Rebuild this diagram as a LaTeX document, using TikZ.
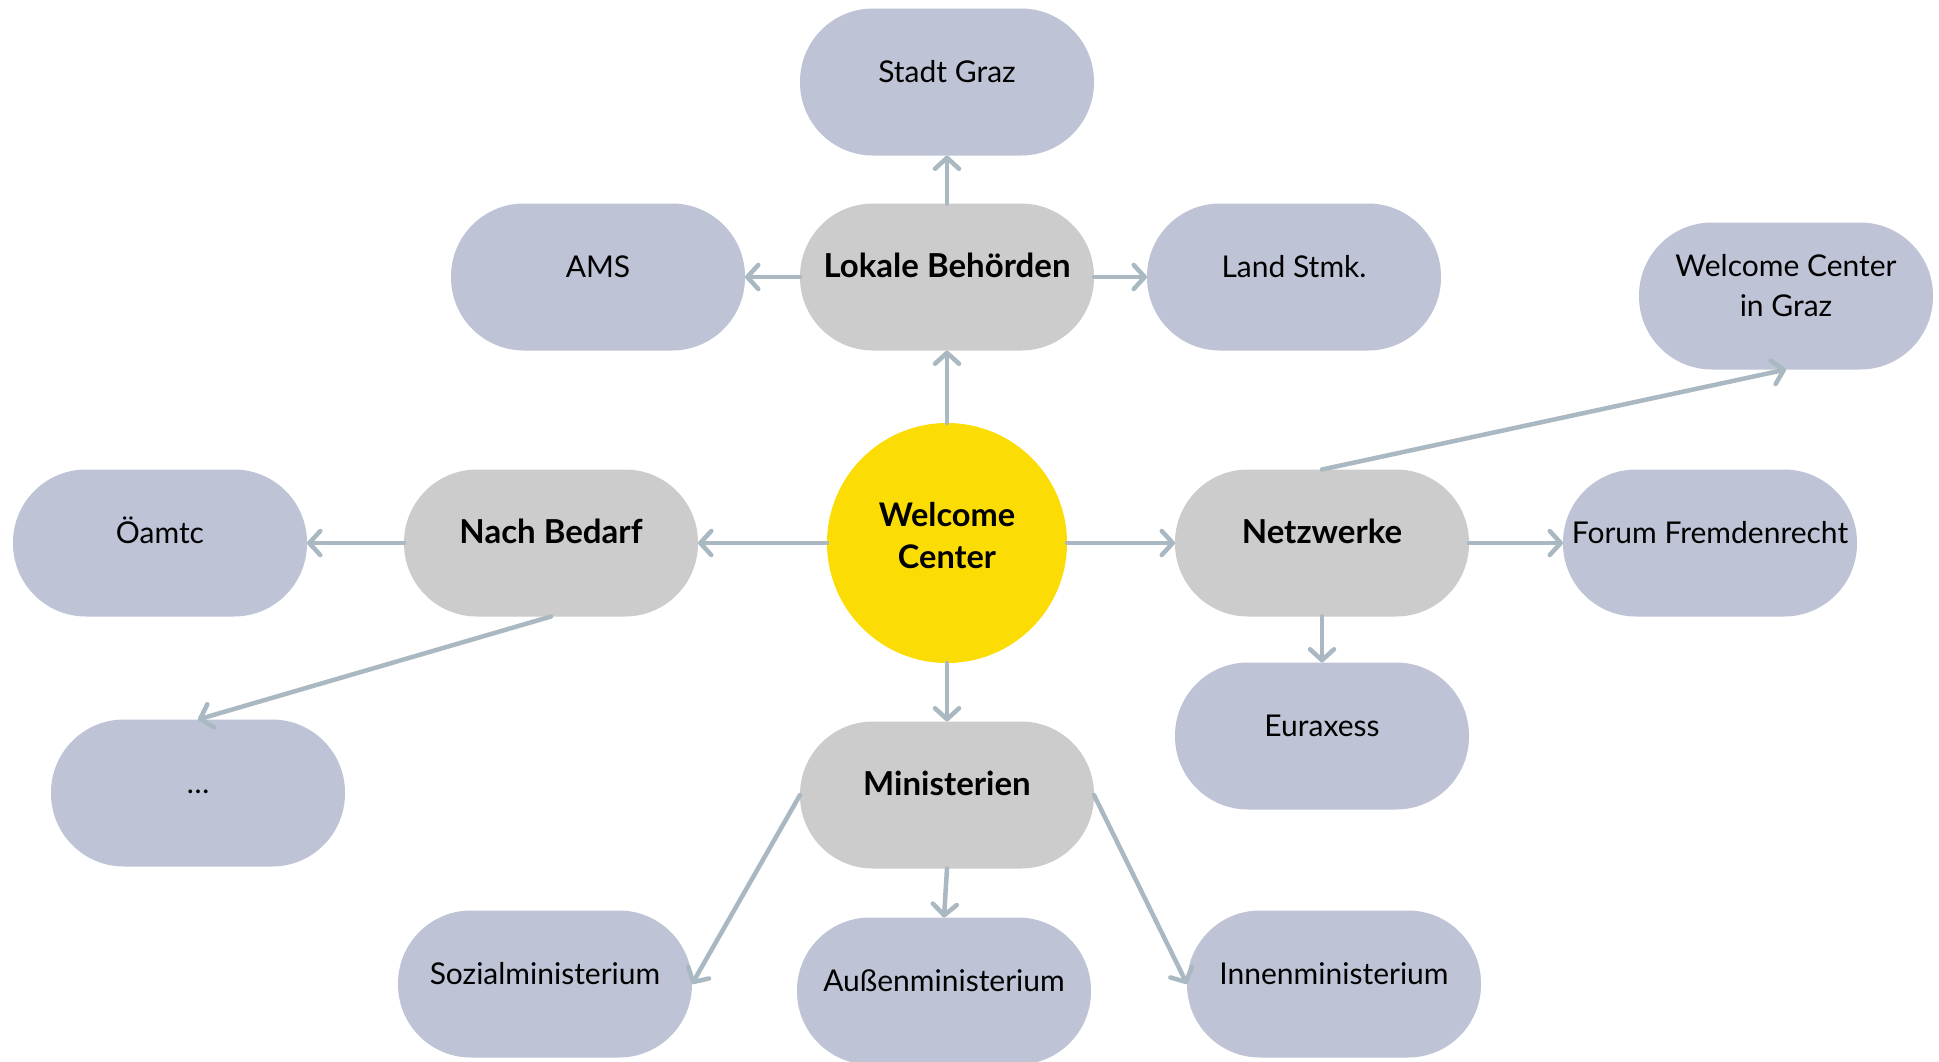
\documentclass[tikz,border=0pt]{standalone}
\usepackage{fontspec}
\setmainfont{Lato}
\usetikzlibrary{arrows.meta}
\definecolor{lav}{HTML}{BEC3D6}
\definecolor{grayfill}{HTML}{CCCCCC}
\definecolor{wcyellow}{HTML}{FCDC05}
\definecolor{arrowc}{HTML}{A9B8C1}
\newcommand{\twolines}[3]{\raisebox{-#3}{\begin{tabular}[b]{@{}c@{}}#1\\#2\end{tabular}}}
\begin{document}
\begin{tikzpicture}[x=1pt,y=-1pt,
  pill/.style={rectangle, rounded corners=73pt, minimum width=294pt, minimum height=147pt,
    inner sep=0pt, outer sep=0pt, text height=0pt, text depth=0pt},
  leaf/.style={pill, fill=lav, font=\fontsize{30}{40}\selectfont},
  hub/.style={pill, fill=grayfill, font=\fontsize{33}{40}\selectfont\bfseries},
  wcnode/.style={circle, fill=wcyellow, minimum size=240pt, inner sep=0pt, outer sep=0pt,
    text height=0pt, text depth=0pt, font=\fontsize{32.5}{42}\selectfont\bfseries},
  link/.style={draw=arrowc, line width=4.5pt, line cap=round,
    -{Straight Barb[length=11pt,width=24pt,round]}}
]
\useasboundingbox (0,0) rectangle (1939,1061);
\fill[white] (0,0) rectangle (1939,1061);

\node[wcnode] (wc) at (947,543) {\twolines{Welcome}{Center}{25pt}};

\node[hub] (lokale) at (947,277) {Lokale Behörden};
\node[hub] (nach) at (551,543) {Nach Bedarf};
\node[hub] (netz) at (1322,543) {Netzwerke};
\node[hub] (mini) at (947,795) {Ministerien};

\node[leaf] (stadt) at (947,82) {Stadt Graz};
\node[leaf] (ams) at (598,277) {AMS};
\node[leaf] (land) at (1294,277) {Land Stmk.};
\node[leaf] (wcgraz) at (1786,296) {\twolines{Welcome Center}{in Graz}{20pt}};
\node[leaf] (oamtc) at (160,543) {Öamtc};
\node[leaf] (forum) at (1710,543) {Forum Fremdenrecht};
\node[leaf] (eurax) at (1322,736) {Euraxess};
\node[leaf] (dots) at (198,793) {\dots};
\node[leaf] (sozial) at (545,984) {Sozialministerium};
\node[leaf] (aussen) at (944,991) {Außenministerium};
\node[leaf] (innen) at (1334,984) {Innenministerium};

\draw[link] (wc.north) -- (lokale.south);
\draw[link] (wc.west) -- (nach.east);
\draw[link] (wc.east) -- (netz.west);
\draw[link] (wc.south) -- (mini.north);

\draw[link] (lokale.north) -- (stadt.south);
\draw[link] (lokale.west) -- (ams.east);
\draw[link] (lokale.east) -- (land.west);

\draw[link] (nach.west) -- (oamtc.east);
\draw[link] (nach.south) -- (dots.north);

\draw[link] (netz.north) -- (wcgraz.south);
\draw[link] (netz.east) -- (forum.west);
\draw[link] (netz.south) -- (eurax.north);

\draw[link] (mini.west) -- (sozial.east);
\draw[link] (mini.south) -- (aussen.north);
\draw[link] (mini.east) -- (innen.west);
\end{tikzpicture}
\end{document}
